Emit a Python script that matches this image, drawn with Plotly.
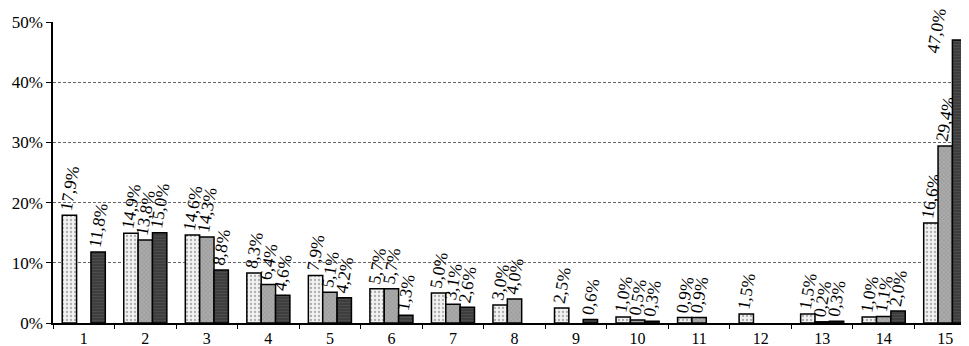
import plotly.graph_objects as go

categories = [str(i) for i in range(1, 16)]
series_a = [17.9, 14.9, 14.6, 8.3, 7.9, 5.7, 5.0, 3.0, 2.5, 1.0, 0.9, 1.5, 1.5, 1.0, 16.6]
series_b = [None, 13.8, 14.3, 6.4, 5.1, 5.7, 3.1, 4.0, None, 0.5, 0.9, None, 0.2, 1.1, 29.4]
series_c = [11.8, 15.0, 8.8, 4.6, 4.2, 1.3, 2.6, None, 0.6, 0.3, None, None, 0.3, 2.0, 47.0]

FONT = "Times New Roman, Liberation Serif, serif"

styles = [
    dict(color="#f2f2f2", fg="#666666", shape=".", size=4, sol=0.25),
    dict(color="#a0a0a0", fg="#d0d0d0", shape="x", size=3, sol=0.3),
    dict(color="#3e3e3e", fg="#5c5c5c", shape="-", size=3, sol=0.3),
]

fig = go.Figure()
all_series = [series_a, series_b, series_c]
for k, (vals, st) in enumerate(zip(all_series, styles)):
    tpos = ["outside"] * len(vals)
    if k == 2:
        tpos[-1] = "none"  # last label placed as annotation, kept inside the chart
    fig.add_trace(go.Bar(
        x=categories, y=vals,
        marker=dict(color=st["color"], line=dict(color="black", width=1.5),
                    pattern=dict(shape=st["shape"], fgcolor=st["fg"], size=st["size"],
                                 solidity=st["sol"])),
        texttemplate="%{y:.1f}%", textposition=tpos, textangle=-80,
        textfont=dict(family=FONT, size=17.5, color="black"),
        cliponaxis=False, constraintext="none",
    ))

last_idx = len(categories) - 1
fig.add_annotation(
    x=last_idx, y=series_c[-1], text=f"{series_c[-1]:.1f}%".replace(".", ","),
    textangle=-80, showarrow=False, xshift=-9, yshift=9, yanchor="middle",
    font=dict(family=FONT, size=17.5, color="black"),
)

fig.update_layout(
    width=969, height=346,
    margin=dict(l=45, r=1, t=14, b=31),
    plot_bgcolor="white", paper_bgcolor="white",
    barmode="group", bargap=0.3, bargroupgap=0,
    showlegend=False, separators=", ",
    font=dict(family=FONT, size=17, color="black"),
)
fig.update_xaxes(range=[-0.5, last_idx + 0.5], showline=True, linecolor="black", linewidth=1.5,
                 ticks="outside", tickson="boundaries", ticklen=4, tickcolor="black",
                 showgrid=False, tickfont=dict(size=16), automargin=False)
fig.update_yaxes(range=[0, 50], dtick=10, ticksuffix="%", showline=True, linecolor="black",
                 linewidth=1.5, ticks="outside", ticklen=5, tickcolor="black",
                 showgrid=True, gridcolor="#666666", griddash="3px,2px", gridwidth=0.8,
                 zeroline=False, tickfont=dict(size=17), automargin=False)

fig.write_html("out.html")
